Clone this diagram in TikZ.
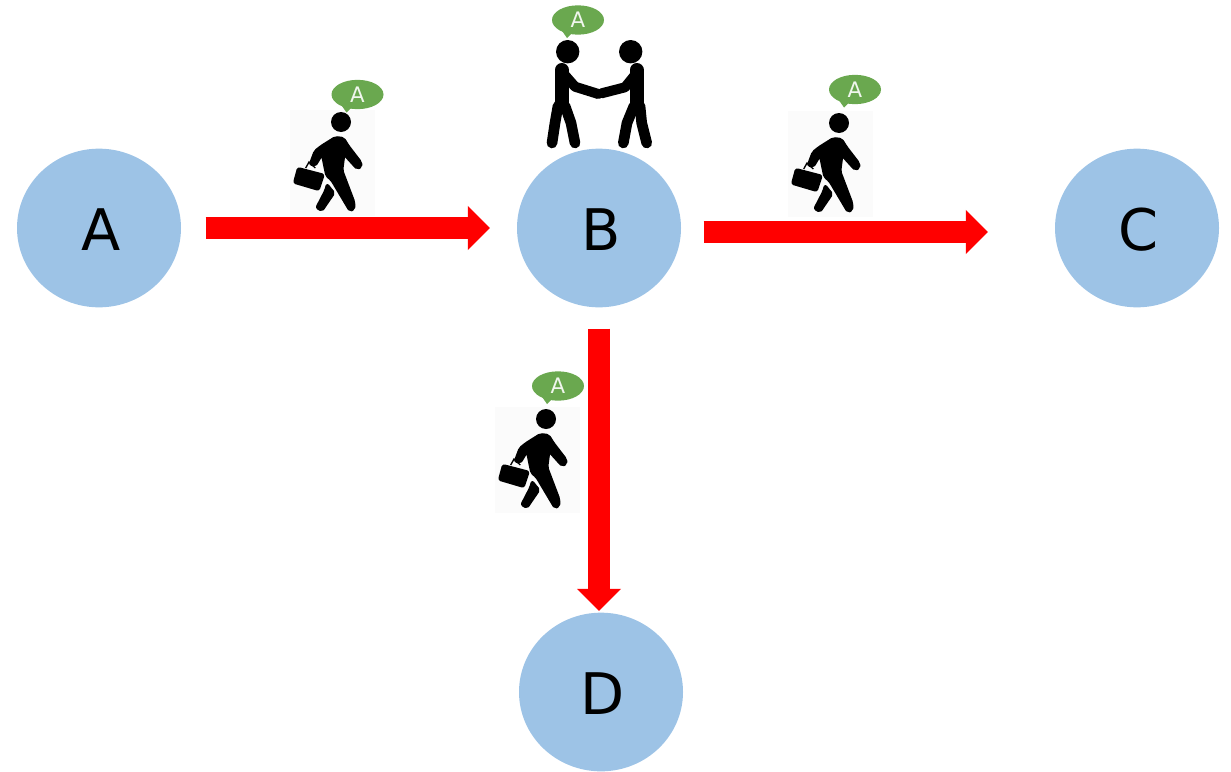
\documentclass[tikz,border=0pt]{standalone}
\usepackage{fontspec}
\setmainfont{DejaVu Sans}
\usetikzlibrary{arrows.meta,shapes.geometric}
\definecolor{stopblue}{RGB}{157,195,230}
\definecolor{bubblegreen}{RGB}{106,168,79}
\tikzset{every picture/.style={line width=0.75pt}}
\tikzset{
  stopnode/.style={ellipse,fill=stopblue,minimum width=123pt,minimum height=119pt,inner sep=0pt,text height=34pt,text depth=0pt,font=\fontsize{43}{43}\selectfont},
  routearrow/.style={draw=red,line width=16.5pt,-{Triangle[length=16.5pt,width=32pt,fill=red]}},
  limb/.style={draw=black,line cap=round,line join=round},
  solidpart/.style={fill=black,draw=black,line width=1.5pt,line join=round,rounded corners=1.5pt},
  pics/speech/.style={code={
    %Shape: Bubble
    \fill[bubblegreen] (-11,18) -- (-18,8) -- (-4,11) -- cycle;
    \node[ellipse,fill=bubblegreen,minimum width=39pt,minimum height=22pt,inner sep=0pt,text=white!90!bubblegreen,font=\fontsize{16}{16}\selectfont] (-bubble) at (0,0) {A};
  }},
  pics/walker/.style={code={
    %Shape: Backdrop
    \fill[black!1.5] (-51,-12) rectangle (34,94);
    %Shape: Head
    \fill (0,0) circle (10);
    %Shape: Body
    \path[solidpart] (-5.7,15) -- (2.7,16) -- (7.7,24) -- (20,40) -- (20.7,44.7) -- (16,47) -- (3.3,33) -- (1.3,48.3) -- (13.3,80) -- (13.3,87.3) -- (8.7,89) -- (-9.7,58) -- (-14.7,54) -- (-19,33) -- (-25.7,44) -- (-31.3,42.3) -- (-26.3,29) -- (-20,24) -- cycle;
    %Shape: Back leg
    \path[solidpart] (-14,62) -- (-6.7,71) -- (-19,89) -- (-24.7,85.7) -- (-15.7,68.3) -- cycle;
    %Shape: Briefcase
    \path[solidpart] (-43,46) -- (-17.3,52.7) -- (-22.3,68) -- (-47,60.7) -- cycle;
    \draw[line width=1pt] (-35.3,46) -- (-32,40) -- (-25.7,46);
  }},
}

\begin{document}
\begin{tikzpicture}[x=0.75pt,y=-0.75pt]
\useasboundingbox (0,0) rectangle (1231,771);

%Walkers
\pic at (341,122) {walker};
\pic at (839,123) {walker};
\pic at (546,419) {walker};
\pic (bubbleab) at (357.5,94.5) {speech};
\pic (bubblebc) at (855,89.5) {speech};
\pic (bubblebd) at (558,386) {speech};

%Handshake
\fill (567.7,51.7) circle (11.7);
\fill (630.7,51.7) circle (11.7);
\draw[limb,line width=10.5pt] (561.7,70) -- (561.7,104);
\draw[limb,line width=10.5pt] (636.7,70) -- (636.7,104);
\draw[limb,line width=7.5pt] (563.3,73.3) -- (575,86.7) -- (598.3,94);
\draw[limb,line width=7.5pt] (635,75) -- (625,87.3) -- (601.7,93.3);
\draw[limb,line width=8pt] (558,106) -- (555,123) -- (552,143);
\draw[limb,line width=8pt] (565,106) -- (571,123) -- (575,143);
\draw[limb,line width=8pt] (634,106) -- (627,123) -- (623.3,143);
\draw[limb,line width=8pt] (640,106) -- (641.7,123) -- (646.7,143);
\pic (bubbleb) at (578,20) {speech};

%Stops
\node[stopnode] (stopa) at (99,228) {\kern3pt A};
\node[stopnode] (stopb) at (599,228) {\kern3pt B};
\node[stopnode] (stopc) at (1137,228) {\kern3pt C};
\node[stopnode] (stopd) at (601,692) {\kern3pt D};

%Arrows
\draw[routearrow,shorten <=18pt,shorten >=20pt] (stopa) -- (stopb);
\draw[routearrow,shorten <=16.5pt,shorten >=50pt] ([yshift=-3pt]stopb.east) -- ([yshift=-3pt]stopc.west);
\draw[routearrow,shorten <=15.5pt,shorten >=1pt] (stopb) -- (stopb |- stopd.north);

\end{tikzpicture}
\end{document}
